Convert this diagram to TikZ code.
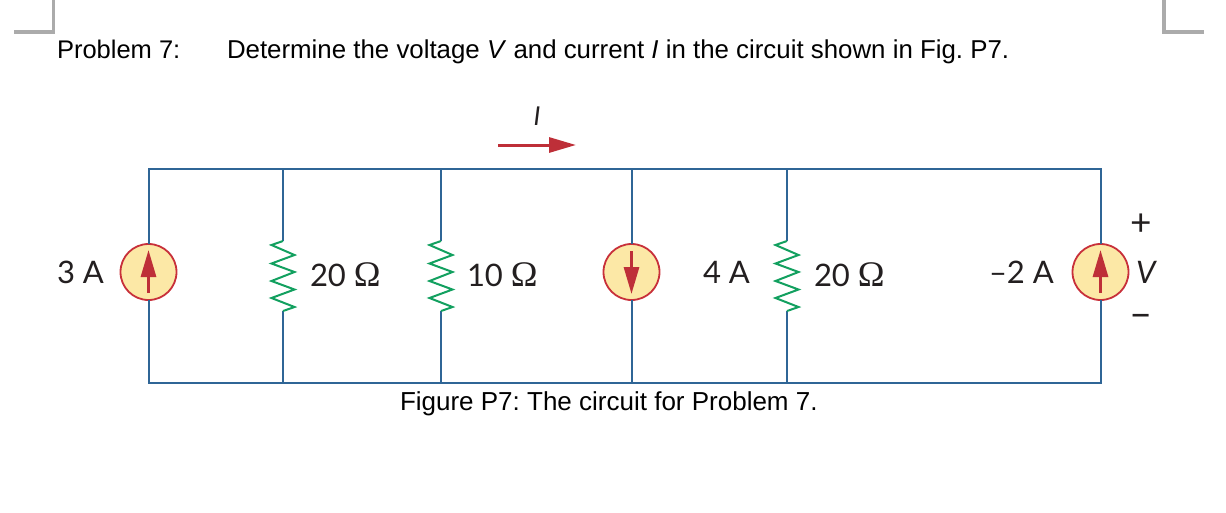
\documentclass[tikz,border=0pt]{standalone}
\usepackage{fontspec}
\setmainfont{Liberation Sans}
\newfontfamily\cirfont{Lato}
\newfontfamily\omfont{Liberation Serif}
\usetikzlibrary{arrows.meta}
\definecolor{wirec}{HTML}{2F6596}
\definecolor{resc}{HTML}{12A05F}
\definecolor{ringc}{HTML}{C8303A}
\definecolor{arrc}{HTML}{BE2F38}
\definecolor{fillc}{HTML}{FCE8A6}
\definecolor{inkc}{HTML}{231F20}
\definecolor{cropc}{HTML}{ABABAB}
\tikzset{
  wire/.style={draw=wirec,line width=2pt},
  src/.style={circle,draw=ringc,fill=fillc,line width=1.8pt,minimum size=56pt,inner sep=0pt,outer sep=0pt},
  resline/.style={draw=resc,line width=2pt,line join=miter},
  arrowred/.style={draw=arrc,line width=3pt,-{Triangle[length=27pt,width=15pt]}},
  docline/.style={anchor=base west,inner sep=0pt,outer sep=0pt,font=\frenchspacing\fontsize{26pt}{30pt}\selectfont,text=black},
  cirlabel/.style={anchor=base west,inner sep=0pt,outer sep=0pt,font=\cirfont\fontsize{31pt}{36pt}\selectfont,text=inkc},
  cirital/.style={cirlabel,font=\cirfont\itshape\fontsize{31pt}{36pt}\selectfont},
  cropmark/.style={draw=cropc,line width=3.6pt}
}
\newcommand{\ohm}{{\omfont\fontsize{36pt}{36pt}\selectfont Ω}}
\begin{document}
\begin{tikzpicture}[x=1pt,y=-1pt]
\useasboundingbox (0,0) rectangle (1226,512);
% crop marks
\coordinate (cl1) at (14,32); \coordinate (cl2) at (53.5,32); \coordinate (cl3) at (53.5,0);
\coordinate (cr1) at (1204,32); \coordinate (cr2) at (1164,32); \coordinate (cr3) at (1164,0);
\draw[cropmark] (cl1) -- (cl2) -- (cl3);
\draw[cropmark] (cr1) -- (cr2) -- (cr3);
% document text
\node[docline,font=\frenchspacing\fontsize{25.5pt}{30pt}\selectfont] (prob) at (57,58) {Problem 7:};
\node[docline,font=\frenchspacing\fontsize{25.85pt}{30pt}\selectfont] (stmt) at (227,58) {Determine the voltage \textit{V} and current \textit{I} in the circuit shown in Fig. P7.};
\node[docline] (cap) at (400,410) {Figure P7: The circuit for Problem 7.};
% circuit junctions
\coordinate (tl) at (148.5,168.5); \coordinate (tr) at (1100.5,168.5);
\coordinate (bl) at (148.5,383); \coordinate (br) at (1100.5,383);
\coordinate (t1) at (283,168.5); \coordinate (b1) at (283,383);
\coordinate (t2) at (441,168.5); \coordinate (b2) at (441,383);
\coordinate (t3) at (631.5,168.5); \coordinate (b3) at (631.5,383);
\coordinate (t4) at (787,168.5); \coordinate (b4) at (787,383);
% resistor ends
\coordinate (rat) at (283,241); \coordinate (rab) at (283,311);
\coordinate (rbt) at (441,241); \coordinate (rbb) at (441,311);
\coordinate (rct) at (787,241); \coordinate (rcb) at (787,311);
% sources
\node[src] (sa) at (148.5,272) {};
\node[src] (sb) at (631.5,272) {};
\node[src] (sc) at (1100.5,272) {};
% wires
\draw[wire,line join=miter] (sa.north) -- (tl) -- (tr) -- (sc.north);
\draw[wire,line join=miter] (sa.south) -- (bl) -- (br) -- (sc.south);
\draw[wire] (t1) -- (rat); \draw[wire] (rab) -- (b1);
\draw[wire] (t2) -- (rbt); \draw[wire] (rbb) -- (b2);
\draw[wire] (t3) -- (sb.north); \draw[wire] (sb.south) -- (b3);
\draw[wire] (t4) -- (rct); \draw[wire] (rcb) -- (b4);
% resistors
\draw[resline] (rat) -- ++(-11.5,4) -- ++(23,10) -- ++(-23,8.5) -- ++(23,8.5) -- ++(-23,9) -- ++(23,8.5) -- ++(-23,8.5) -- ++(23,9) -- (rab);
\draw[resline] (rbt) -- ++(-11.5,4) -- ++(23,10) -- ++(-23,8.5) -- ++(23,8.5) -- ++(-23,9) -- ++(23,8.5) -- ++(-23,8.5) -- ++(23,9) -- (rbb);
\draw[resline] (rct) -- ++(-11.5,4) -- ++(23,10) -- ++(-23,8.5) -- ++(23,8.5) -- ++(-23,9) -- ++(23,8.5) -- ++(-23,8.5) -- ++(23,9) -- (rcb);
% source arrows
\draw[arrowred] ([yshift=-21pt]sa.center) -- ([yshift=22pt]sa.center);
\draw[arrowred] ([yshift=21pt]sb.center) -- ([yshift=-22pt]sb.center);
\draw[arrowred] ([yshift=-21pt]sc.center) -- ([yshift=22pt]sc.center);
% current arrow
\coordinate (ia) at (498,145); \coordinate (ib) at (576,145);
\draw[arrowred] (ia) -- (ib);
% labels
\node[cirlabel] (l3a) at (57,283) {3 A};
\node[cirlabel] (lr1) at (310,286) {20 \ohm};
\node[cirlabel] (lr2) at (467,286) {10 \ohm};
\node[cirlabel] (l4a) at (703,283) {4 A};
\node[cirlabel] (lr3) at (814,286) {20 \ohm};
\node[cirlabel] (l2a) at (989,283) {–2 A};
\node[cirital] (lv) at (1136,283) {V};
\node[cirlabel,anchor=center,font=\cirfont\fontsize{37pt}{40pt}\selectfont] (lp) at (1141,225) {+};
\node[cirlabel,anchor=center,font=\cirfont\fontsize{40pt}{40pt}\selectfont] (lm) at (1141,321) {–};
\node[cirital,anchor=center,font=\cirfont\itshape\fontsize{26pt}{30pt}\selectfont] (li) at (537,116) {I};
\end{tikzpicture}
\end{document}
